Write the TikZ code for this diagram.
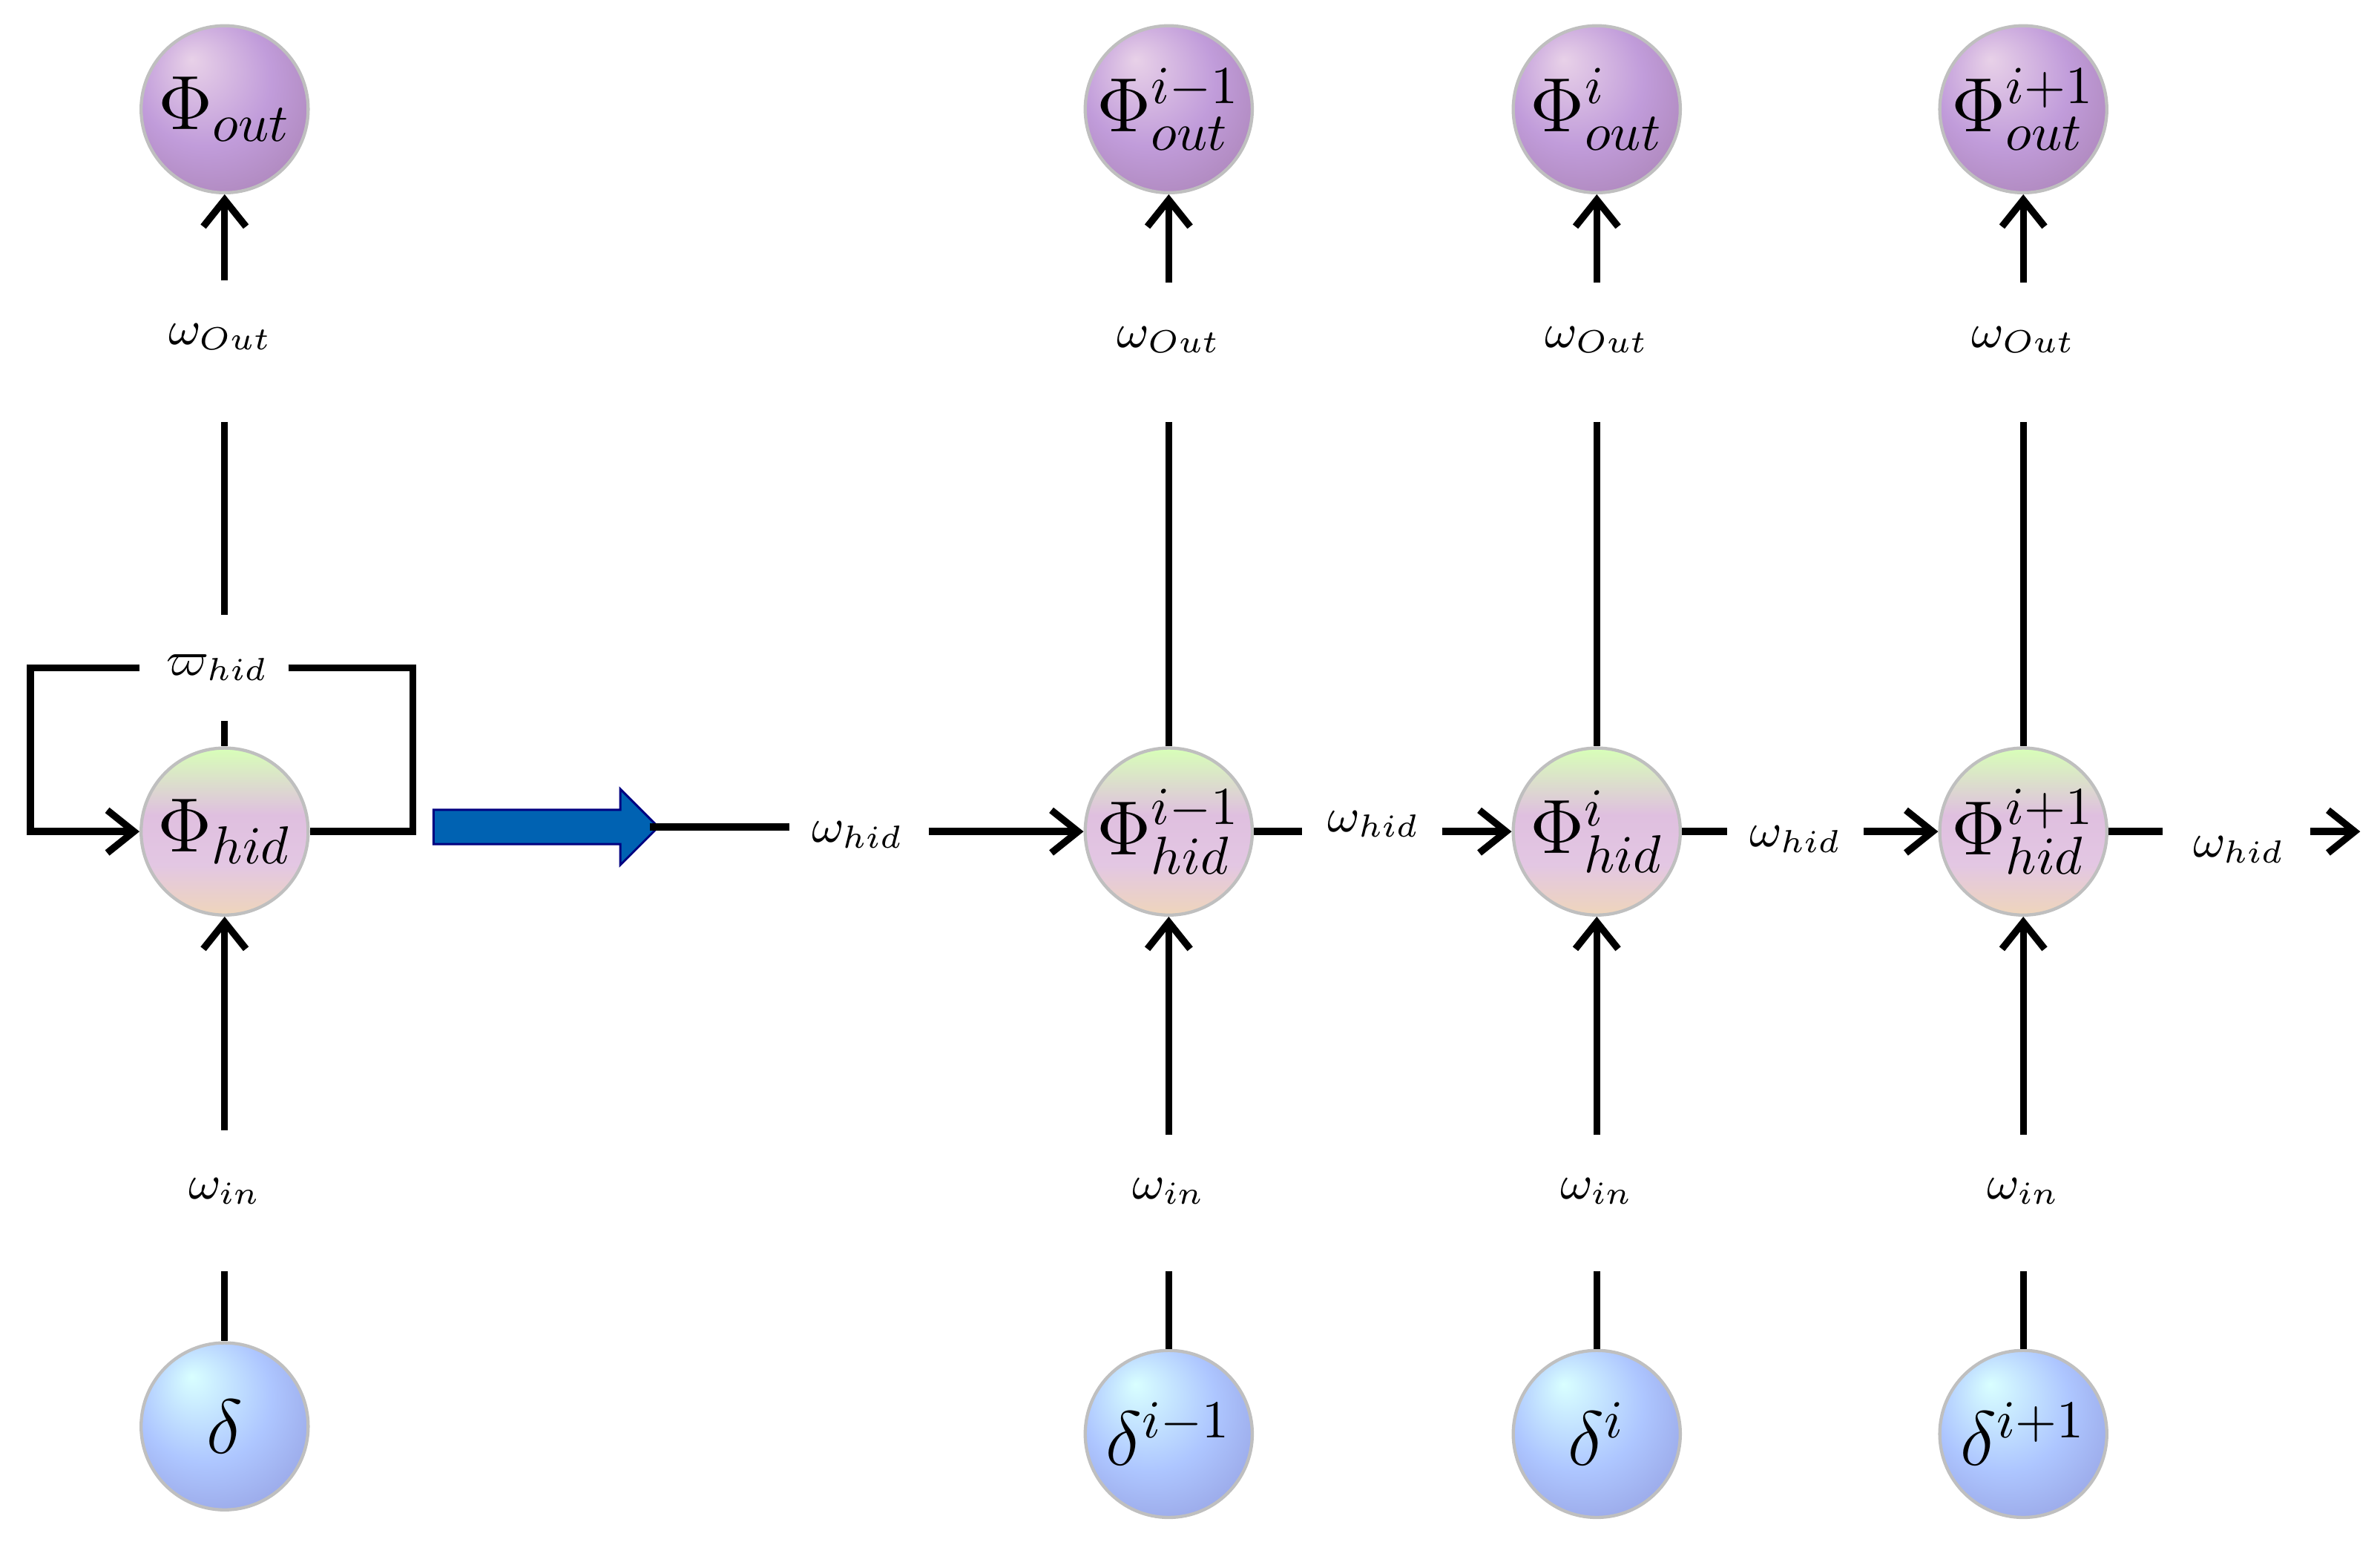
\documentclass[tikz,border=0pt]{standalone}
\usetikzlibrary{arrows.meta,shapes.arrows}
\pgfdeclareverticalshading{hidsh}{100bp}{
 color(0bp)=(white!85!gray); color(20bp)=(yellow!30!orange!30!white!90!gray);
 color(40bp)=(violet!22!white); color(55bp)=(violet!25!white);
 color(75bp)=(green!55!yellow!28!white); color(92bp)=(white!95!gray); color(100bp)=(white)}
\pgfdeclareradialshading{outsh}{\pgfpoint{-10bp}{15bp}}{
 color(0bp)=(white!70!violet!60!white); color(20bp)=(violet!32!white!90!blue); color(50bp)=(violet!40!gray!80!white)}
\pgfdeclareradialshading{insh}{\pgfpoint{-10bp}{15bp}}{
 color(0bp)=(cyan!15!white); color(20bp)=(cyan!30!blue!32!white); color(50bp)=(blue!40!gray!70!white)}
\begin{document}
\begin{tikzpicture}[x=0.01cm,y=-0.01cm,
 nd/.style={circle,minimum size=1.1cm,inner sep=0pt,draw=gray!50,line width=0.6pt,font=\fontsize{14}{17}\selectfont},
 outnd/.style={nd,shading=outsh},
 inpnd/.style={nd,shading=insh},
 hidnd/.style={nd,shading=hidsh},
 lab/.style={font=\small,inner sep=1pt},
 ln/.style={line width=1.3pt},
 ar/.style={ln,-{Straight Barb[length=5pt,width=8pt]}}]
\useasboundingbox (0,0) rectangle (1568,1027);
% left folded
\node[outnd] (o0) at (148,72) {$\Phi_{out}$};
\node[hidnd] (h0) at (148,548) {$\Phi_{hid}$};
\node[inpnd] (d0) at (148,940) {$\delta$};
\node[lab] (wo0) at (145,222) {$\omega_{Out}$};
\node[lab] (wi0) at (148,785) {$\omega_{in}$};
\node[lab] (wh0) at (143,440) {$\varpi_{hid}$};
\coordinate (a0) at (148,185);\coordinate (b0) at (148,278);\coordinate (c0) at (148,405);\coordinate (e0) at (148,475);
\coordinate (f0) at (148,745);\coordinate (g0) at (148,838);
\draw[ar] (a0) -- (o0);
\draw[ln] (b0) -- (c0);
\draw[ln] (e0) -- (h0);
\draw[ar] (f0) -- (h0);
\draw[ln] (g0) -- (d0);
\coordinate (L1) at (92,440);\coordinate (L2) at (20,440);\coordinate (L3) at (20,548);
\coordinate (R1) at (190,440);\coordinate (R2) at (272,440);\coordinate (R3) at (272,548);
\draw[ar] (L1) -- (L2) -- (L3) -- (h0);
\draw[ln] (R1) -- (R2) -- (R3) -- (h0);
\node[single arrow,draw=blue!50!black,fill=blue!45!cyan!70!black,minimum height=1.48cm,minimum width=0.5cm,inner xsep=0pt,inner ysep=0.1cm,single arrow head extend=0.13cm] (big) at (354,545) {};
% unrolled
\foreach \n/\x/\s in {1/770/i-1,2/1052/i,3/1333/i+1}{
 \node[outnd] (o\n) at (\x,72) {$\Phi_{out}^{\s}$};
 \node[hidnd] (h\n) at (\x,548) {$\Phi_{hid}^{\s}$};
 \node[inpnd] (d\n) at (\x,945) {$\delta^{\s}$};
 \node[lab] (wo\n) at (\x,224) {$\omega_{Out}$};
 \node[lab] (wi\n) at (\x,785) {$\omega_{in}$};
 \coordinate (a\n) at (\x,186);\coordinate (b\n) at (\x,278);
 \coordinate (f\n) at (\x,748);\coordinate (g\n) at (\x,838);
 \draw[ar] (a\n) -- (o\n);
 \draw[ln] (b\n) -- (h\n);
 \draw[ar] (f\n) -- (h\n);
 \draw[ln] (g\n) -- (d\n);
}
\coordinate (s1) at (428,545);\coordinate (t1) at (520,545);\node[lab] (w1) at (565,550) {$\omega_{hid}$};\coordinate (u1) at (612,548);
\draw[ln] (s1) -- (t1);\draw[ar] (u1) -- (h1.west);
\coordinate (t2) at (858,548);\node[lab] (w2) at (905,543) {$\omega_{hid}$};\coordinate (u2) at (950,548);
\draw[ln] (h1.east) -- (t2);\draw[ar] (u2) -- (h2.west);
\coordinate (t3) at (1138,548);\node[lab] (w3) at (1183,553) {$\omega_{hid}$};\coordinate (u3) at (1228,548);
\draw[ln] (h2.east) -- (t3);\draw[ar] (u3) -- (h3.west);
\coordinate (t4) at (1425,548);\node[lab] (w4) at (1475,560) {$\omega_{hid}$};\coordinate (u4) at (1522,548);\coordinate (v4) at (1555,548);
\draw[ln] (h3.east) -- (t4);\draw[ar] (u4) -- (v4);
\end{tikzpicture}
\end{document}
